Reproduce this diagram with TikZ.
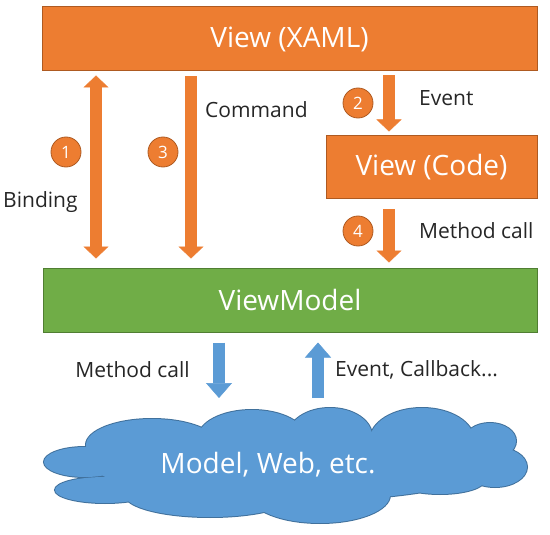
\documentclass[tikz,border=0pt]{standalone}
\usepackage{fontspec}
\setmainfont{Open Sans}
\usetikzlibrary{arrows.meta}
\definecolor{vorange}{HTML}{ED7D31}
\definecolor{vorangeline}{HTML}{AE5A21}
\definecolor{vgreen}{HTML}{70AD47}
\definecolor{vgreenline}{HTML}{507E32}
\definecolor{vblue}{HTML}{5B9BD5}
\definecolor{vblueline}{HTML}{41719C}
\newcommand{\bigfont}{\fontsize{28}{30}\selectfont}
\newcommand{\labfont}{\fontsize{21}{23}\selectfont}
\newcommand{\cloudpuffs}{(85,462) ellipse [x radius=41,y radius=15]
    (105,490) ellipse [x radius=50,y radius=13]
    (152,445) ellipse [x radius=66,y radius=26]
    (252,438) ellipse [x radius=54,y radius=28]
    (330,436) ellipse [x radius=42,y radius=28]
    (422,440) ellipse [x radius=52,y radius=32]
    (490,441) ellipse [x radius=26,y radius=18]
    (495,467) ellipse [x radius=32,y radius=20]
    (440,480) ellipse [x radius=45,y radius=14]
    (320,495) ellipse [x radius=70,y radius=28]
    (210,495) ellipse [x radius=85,y radius=22]
    (292,465) ellipse [x radius=198,y radius=36]}

\begin{document}
\begin{tikzpicture}[x=1pt,y=-1pt,
    layerbox/.style={rectangle,fill=#1,draw=#1line,line width=1pt,text=white,font=\bigfont,inner sep=0pt},
    stepnum/.style={circle,fill=vorange,draw=vorangeline,line width=0.8pt,minimum size=30pt,inner sep=0pt,text=white,font=\fontsize{17}{17}\selectfont},
    steplabel/.style={text=black!85,font=\labfont,inner sep=0pt},
    tipo/.tip={Triangle[width=25pt,length=12pt,line width=0.5pt]},
    oarrow/.style={draw=vorange,line width=11.5pt},
    barrow/.style={draw=vblue,line width=12pt,-{Triangle[width=26pt,length=15pt,line width=0.5pt]}}]
        \useasboundingbox (0,0) rectangle (550,535);
        % layers
        \node[layerbox=vorange,minimum width=495pt,minimum height=64pt] (xaml) at (289.5,39) {View (XAML)};
        \node[layerbox=vorange,minimum width=211pt,minimum height=63pt] (code) at (431.5,167.5) {View (Code)};
        \node[layerbox=vgreen,minimum width=494pt,minimum height=64pt] (vm) at (290,300) {ViewModel};
        % cloud: outline of the union, then the fill over it
        \draw[vblueline,line width=2pt] \cloudpuffs;
        \fill[vblue] \cloudpuffs;
        \node[text=white,font=\bigfont,inner sep=0pt] (model) at (268,465) {Model, Web, etc.};
        % arrow columns
        \coordinate (bindx) at (96,0);
        \coordinate (cmdx) at (191,0);
        \coordinate (evx) at (389,0);
        \coordinate (downx) at (219,0);
        \coordinate (upx) at (318,0);
        \coordinate (cloudtop) at (0,398);
        \draw[oarrow,{tipo}-{tipo},shorten <=4pt,shorten >=9pt] (xaml.south -| bindx)--(vm.north -| bindx);
        \draw[oarrow,-{tipo},shorten <=5pt,shorten >=9pt] (xaml.south -| cmdx)--(vm.north -| cmdx);
        \draw[oarrow,-{tipo},shorten <=4pt,shorten >=4pt] (xaml.south -| evx)--(code.north -| evx);
        \draw[oarrow,-{tipo},shorten <=10pt,shorten >=5pt] (code.south -| evx)--(vm.north -| evx);
        \draw[barrow,shorten <=10pt] (vm.south -| downx)--(cloudtop -| downx);
        \draw[barrow,shorten >=10pt] (cloudtop -| upx)--(vm.south -| upx);
        % numbers
        \node[stepnum] (n1) at (66,152) {1};
        \node[stepnum] (n2) at (358,103) {2};
        \node[stepnum] (n3) at (163,152) {3};
        \node[stepnum] (n4) at (358,231) {4};
        % labels
        \node[steplabel,anchor=west] (binding) at (3,202) {Binding};
        \node[steplabel,anchor=west] (command) at (205,110) {Command};
        \node[steplabel,anchor=west] (event) at (419,98) {Event};
        \node[steplabel,anchor=west] (call) at (419,231) {Method call};
        \node[steplabel,anchor=east] (vmcall) at (190,370) {Method call};
        \node[steplabel,anchor=west] (callback) at (335,370) {Event, Callback...};
    \end{tikzpicture}
\end{document}
